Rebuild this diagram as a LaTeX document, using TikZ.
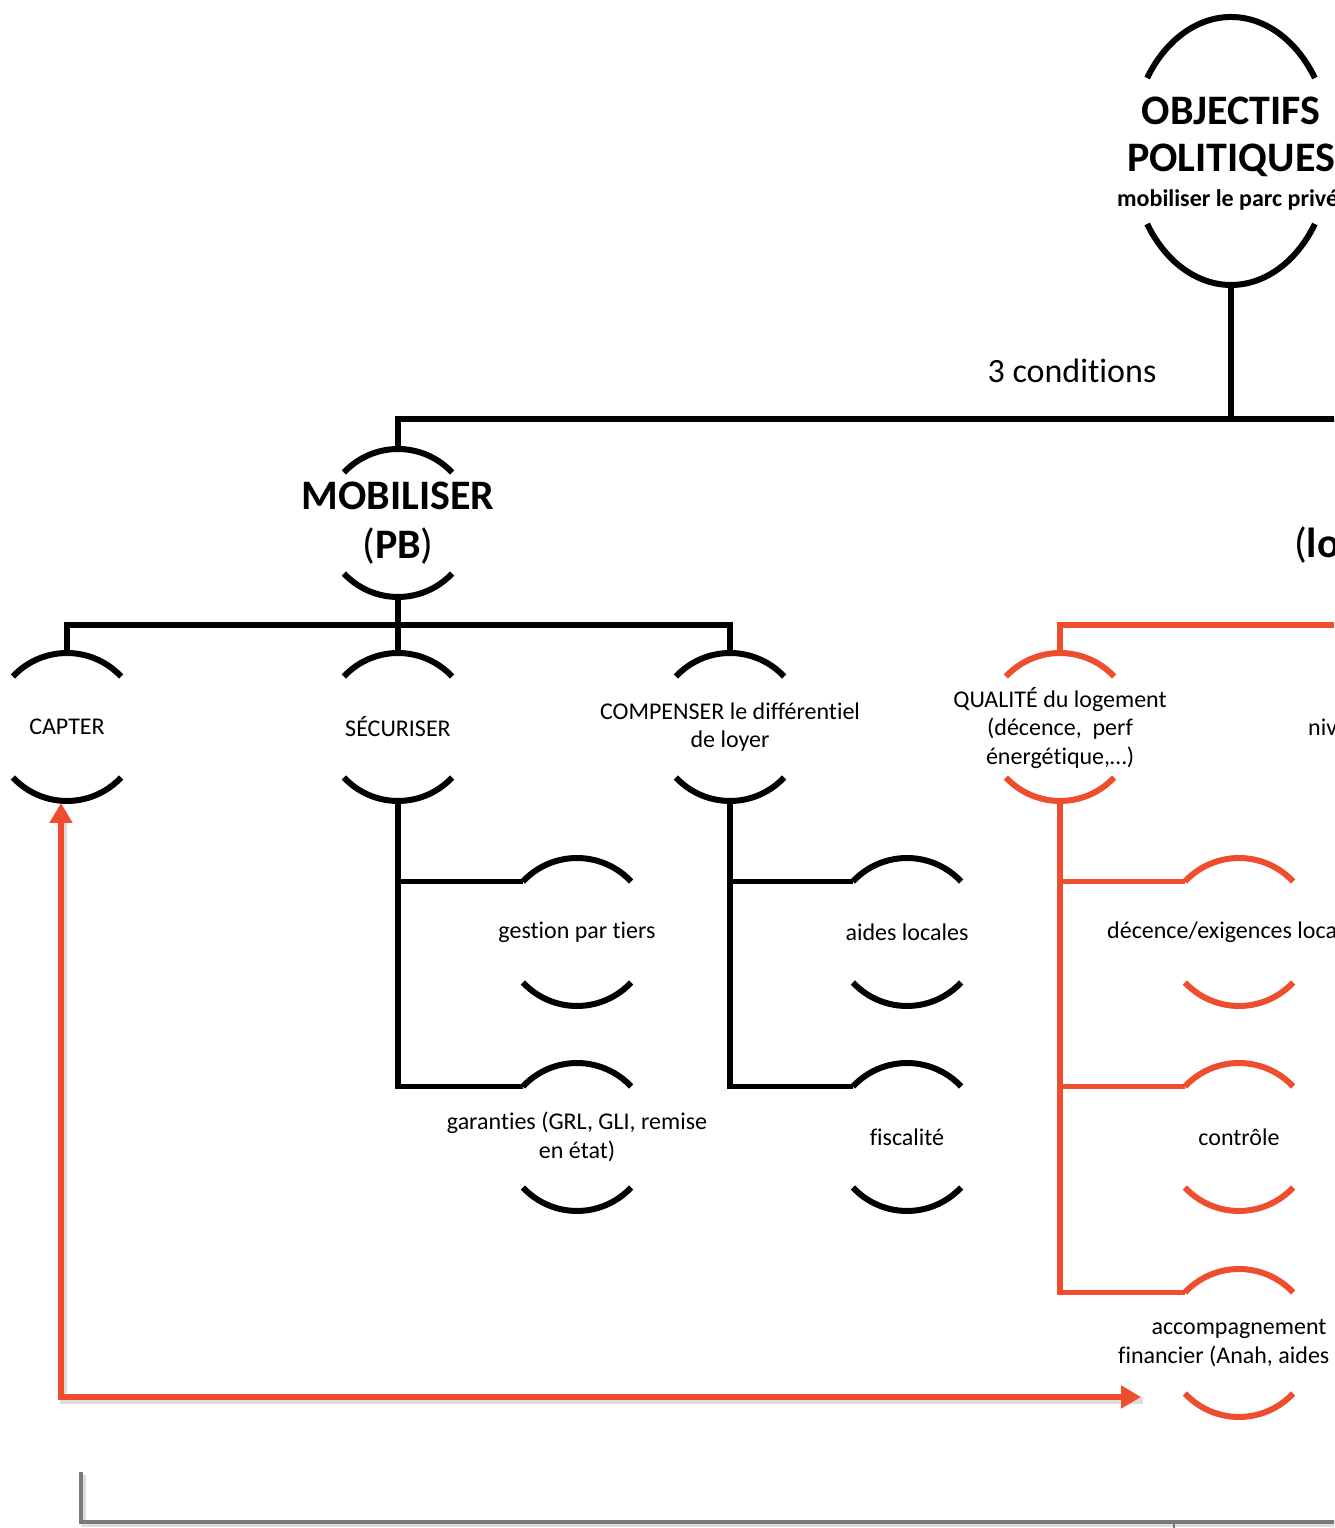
\documentclass[tikz,border=0pt]{standalone}
\usepackage{fontspec}
\setmainfont{Carlito}[Ligatures=NoCommon]
\usetikzlibrary{arrows.meta,shapes.geometric}
\definecolor{myred}{RGB}{238,77,46}
\definecolor{mygray}{RGB}{118,122,126}
\newcommand\capsarcs[2]{%
  \draw[arcline,#2] (#1.137) arc[start angle=137, end angle=43, radius=74pt];
  \draw[arcline,#2] (#1.223) arc[start angle=223, end angle=317, radius=74pt];}
\begin{document}
\begin{tikzpicture}[x=1pt,y=1pt,
  capnode/.style={circle, draw=none, minimum size=148pt, inner sep=0pt, outer sep=0pt},
  arcline/.style={line width=6pt},
  conn/.style={line width=5.5pt},
  lbl/.style={font=\fontsize{24}{28.5}\selectfont, align=center, inner sep=0pt},
  big/.style={font=\fontsize{42}{49}\selectfont\bfseries, align=center, inner sep=0pt},
  redconn/.style={conn, draw=myred},
  shadowline/.style={draw=black!22, opacity=0.6, line width=7pt},
]
\useasboundingbox (0,0) rectangle (1334,1528);
\clip (0,0) rectangle (1334,1528);

% top node
\node[ellipse, draw=none, minimum width=200pt, minimum height=268pt, inner sep=0pt, outer sep=0pt] (obj) at (1231,1377) {};
\draw[arcline] ([shift={(147:100pt and 134pt)}]obj.center) arc[start angle=147, end angle=33, x radius=100pt, y radius=134pt];
\draw[arcline] ([shift={(213:100pt and 134pt)}]obj.center) arc[start angle=213, end angle=327, x radius=100pt, y radius=134pt];
\node[big] (t-obj1) at (1231,1417) {OBJECTIFS};
\node[big] (t-obj2) at (1231,1368) {POLITIQUES};
\node[font=\fontsize{24}{28}\selectfont\bfseries, anchor=west, inner sep=0pt] (t-obj3) at (1117,1328) {mobiliser le parc privé};
\node[font=\fontsize{34}{40}\selectfont, inner sep=0pt] (t-cond) at (1072,1157) {3 conditions};

% level 1
\node[capnode] (mob) at (398,1005) {};
\capsarcs{mob}{black}
\node[big] (t-mob) at (398,1005) {MOBILISER\\{\mdseries(}PB{\mdseries)}};
\node[big, anchor=west] (t-lo) at (1294,983) {{\mdseries(}lo};

\coordinate (j1) at (398,1109);
\coordinate (edge1) at (1345,1109);
\draw[conn] (obj.south) |- (j1) -- (mob.north);
\draw[conn] (j1) -- (edge1);

% level 2
\node[capnode] (capter) at (67,801) {};
\node[capnode] (sec) at (398,801) {};
\node[capnode] (comp) at (730,801) {};
\node[capnode] (qual) at (1060,801) {};
\capsarcs{capter}{black}
\capsarcs{sec}{black}
\capsarcs{comp}{black}
\capsarcs{qual}{myred}
\node[lbl] (t-capter) at (67,801) {CAPTER};
\node[lbl] (t-sec) at (398,801) {SÉCURISER};
\node[lbl] (t-comp) at (730,801) {COMPENSER le différentiel\\de loyer};
\node[lbl] (t-qual) at (1060,800) {QUALITÉ du logement\\(décence,\ \ perf\\énergétique,…)};
\node[lbl, anchor=west] (t-niv) at (1308,801) {niv};

\coordinate (j2) at (398,903);
\coordinate (edge2) at (1345,903);
\draw[conn] (mob.south) -- (j2);
\draw[conn] (capter.north) |- (j2) -| (comp.north);
\draw[conn] (j2) -- (sec.north);
\draw[redconn] (qual.north) |- (edge2);

% level 3
\node[capnode] (gest) at (577,596) {};
\node[capnode] (gar) at (577,391) {};
\node[capnode] (aides) at (907,596) {};
\node[capnode] (fisc) at (907,391) {};
\node[capnode] (dec) at (1239,596) {};
\node[capnode] (ctrl) at (1239,391) {};
\node[capnode] (acc) at (1239,185) {};
\capsarcs{gest}{black}
\capsarcs{gar}{black}
\capsarcs{aides}{black}
\capsarcs{fisc}{black}
\capsarcs{dec}{myred}
\capsarcs{ctrl}{myred}
\capsarcs{acc}{myred}
\node[lbl] (t-gest) at (577,596) {gestion par tiers};
\node[lbl] (t-gar) at (577,391) {garanties (GRL, GLI, remise\\en état)};
\node[lbl] (t-aides) at (907,596) {aides locales};
\node[lbl] (t-fisc) at (907,391) {fiscalité};
\node[lbl, anchor=west] (t-dec) at (1107,596) {décence/exigences locales};
\node[lbl] (t-ctrl) at (1239,391) {contrôle};
\node[lbl] (t-acc1) at (1239,199) {accompagnement};
\node[lbl, anchor=west] (t-acc2) at (1118,172) {financier (Anah, aides};

\draw[conn] (sec.south) |- (gest.137);
\draw[conn] (sec.south) |- (gar.137);
\draw[conn] (comp.south) |- (aides.137);
\draw[conn] (comp.south) |- (fisc.137);
\draw[redconn] (qual.south) |- (dec.137);
\draw[redconn] (qual.south) |- (ctrl.137);
\draw[redconn] (qual.south) |- (acc.137);

% red double arrow
\coordinate (arrR) at (1141,131);
\coordinate (arrL) at (61,131);
\draw[shadowline, transform canvas={shift={(2pt,-4pt)}}] (arrR) -- (arrL) -- ([xshift=-6pt,yshift=-6pt]capter.south);
\draw[line width=6.5pt, myred, line join=miter,
  arrows={Triangle[length=20pt,width=22pt]-Triangle[length=20pt,width=22pt]}]
  ([xshift=-6pt,yshift=-2pt]capter.south) |- (arrR);

% gray bracket
\coordinate (g1) at (81,56);
\coordinate (g2) at (81,6);
\coordinate (g3) at (1345,6);
\coordinate (g4) at (1174,6);
\coordinate (g5) at (1174,-5);
\draw[shadowline, line width=5pt, transform canvas={shift={(2pt,-3pt)}}] (g1) -- (g2) -- (g3);
\draw[mygray, line width=4.5pt] (g1) -- (g2) -- (g3);
\draw[mygray, line width=2pt] (g4) -- (g5);
\end{tikzpicture}
\end{document}
